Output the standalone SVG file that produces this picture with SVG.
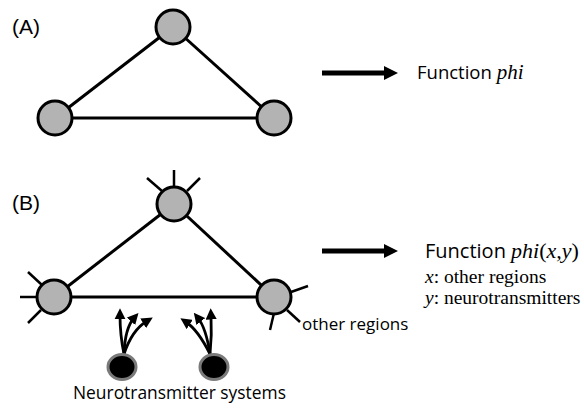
<svg xmlns="http://www.w3.org/2000/svg" width="584" height="413" viewBox="0 0 584 413">
<style>
.node{fill:#b3b3b3;stroke:#000;stroke-width:3}
.edge{stroke:#000;stroke-width:3;fill:none}
.spoke{stroke:#000;stroke-width:2.5;fill:none}
.nt{fill:#000;stroke:#7a7a7a;stroke-width:3}
.ntarrow{stroke:#000;stroke-width:2.8;fill:none;marker-end:url(#small)}
.big{stroke:#000;stroke-width:5;fill:none}
.lab{font-family:"Liberation Sans",Arial,sans-serif;font-size:21px;fill:#000}
.sans{font-family:"Open Sans","Liberation Sans",sans-serif;fill:#000}
.serif{font-family:"Liberation Serif","Times New Roman",serif;fill:#000}
</style>
<defs>
<marker id="small" viewBox="0 0 10 10" refX="4" refY="5" markerWidth="4" markerHeight="4" orient="auto" markerUnits="strokeWidth">
<path d="M0,0 L10,5 L0,10 z" fill="#000"/>
</marker>
</defs>
<text class="lab" x="12" y="34">(A)</text>
<text class="lab" x="12" y="210">(B)</text>
<g id="connectors">
<line class="edge" x1="173" y1="27" x2="55" y2="118"/>
<line class="edge" x1="173" y1="27" x2="274" y2="118"/>
<line class="edge" x1="55" y1="118" x2="274" y2="118"/>
<line class="edge" x1="174" y1="204" x2="54" y2="297"/>
<line class="edge" x1="174" y1="204" x2="274" y2="297"/>
<line class="edge" x1="54" y1="297" x2="274" y2="297"/>
<line class="spoke" x1="174" y1="170" x2="174" y2="187"/>
<line class="spoke" x1="147" y1="178" x2="162" y2="191"/>
<line class="spoke" x1="200" y1="178" x2="187" y2="191"/>
<line class="spoke" x1="28" y1="272" x2="42" y2="285"/>
<line class="spoke" x1="20" y1="297" x2="38" y2="297"/>
<line class="spoke" x1="28" y1="323" x2="41" y2="310"/>
<line class="spoke" x1="291" y1="292" x2="308" y2="286"/>
<line class="spoke" x1="287" y1="310" x2="300" y2="322"/>
<line class="spoke" x1="274" y1="313" x2="270" y2="330"/>
<path class="ntarrow" d="M124,354 Q120,335 120,315"/>
<path class="ntarrow" d="M124,354 Q125,328 134,318"/>
<path class="ntarrow" d="M124,354 Q132,330 147,321"/>
<path class="ntarrow" d="M210,354 Q212,335 211,315"/>
<path class="ntarrow" d="M210,354 Q206,328 198,318"/>
<path class="ntarrow" d="M210,354 Q198,330 186,322"/>
<line class="big" x1="322" y1="73" x2="386" y2="73"/>
<path d="M384,66 L398,73 L384,80 z" fill="#000"/>
<line class="big" x1="322" y1="251" x2="386" y2="251"/>
<path d="M384,244 L398,251 L384,258 z" fill="#000"/>
</g>
<g id="nodeA1"><circle class="node" cx="173" cy="27" r="17"/></g>
<g id="nodeA2"><circle class="node" cx="55" cy="118" r="17"/></g>
<g id="nodeA3"><circle class="node" cx="274" cy="118" r="17"/></g>
<g id="nodeB1"><circle class="node" cx="174" cy="204" r="17"/></g>
<g id="nodeB2"><circle class="node" cx="54" cy="297" r="17"/></g>
<g id="nodeB3"><circle class="node" cx="274" cy="297" r="17"/></g>
<g id="nt1"><ellipse class="nt" cx="122" cy="367" rx="14" ry="12.5"/></g>
<g id="nt2"><ellipse class="nt" cx="214" cy="367" rx="14" ry="12.5"/></g>
<text class="sans" x="417" y="79" font-size="18.5">Function <tspan class="serif" font-style="italic" font-size="21">phi</tspan></text>
<text class="sans" x="425" y="258" font-size="20">Function <tspan class="serif" font-style="italic" font-size="22">phi</tspan><tspan class="serif" font-size="22">(</tspan><tspan class="serif" font-style="italic" font-size="22">x,y</tspan><tspan class="serif" font-size="22">)</tspan></text>
<text class="serif" x="425" y="283" font-size="19.5"><tspan font-style="italic">x</tspan>: other regions</text>
<text class="serif" x="425" y="304" font-size="19.5"><tspan font-style="italic">y</tspan>: neurotransmitters</text>
<text class="sans" x="302" y="330" font-size="17">other regions</text>
<text class="sans" x="73" y="399" font-size="17.4">Neurotransmitter systems</text>
</svg>
